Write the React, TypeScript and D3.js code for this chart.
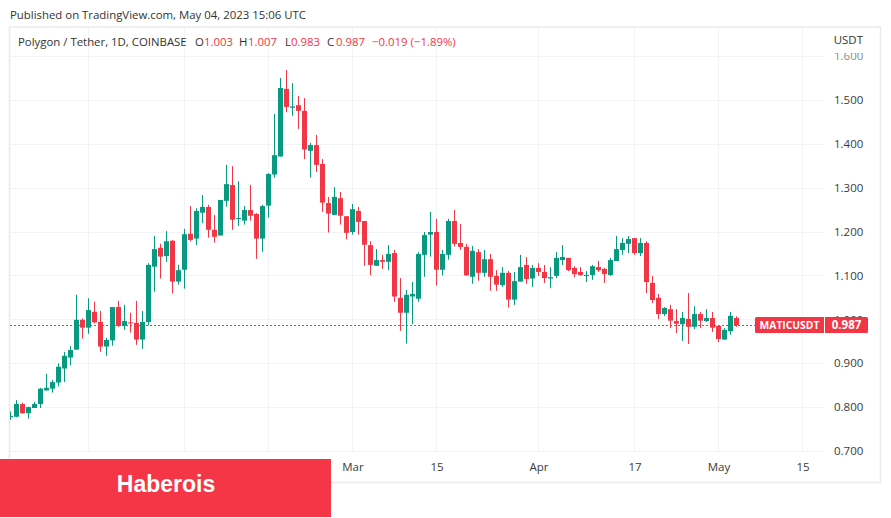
import { useEffect, useRef } from "react";
import * as d3 from "d3";

const firstDay = new Date(Date.UTC(2023, 0, 3));
const lastDay = new Date(Date.UTC(2023, 4, 4));

const opens = [
  0.777, 0.778, 0.807, 0.786, 0.798, 0.807, 0.838, 0.842, 0.856, 0.888,
  0.913, 0.931, 0.999, 0.981, 1.017, 0.994, 0.938, 0.952, 1.028, 0.985,
  0.993, 0.992, 0.954, 0.994, 1.12, 1.163, 1.144, 1.179, 1.086, 1.113,
  1.195, 1.184, 1.243, 1.256, 1.204, 1.191, 1.27, 1.306, 1.229, 1.225,
  1.249, 1.24, 1.184, 1.259, 1.33, 1.371, 1.525, 1.482, 1.488, 1.475,
  1.384, 1.397, 1.354, 1.265, 1.238, 1.276, 1.235, 1.199, 1.247, 1.224,
  1.169, 1.122, 1.135, 1.131, 1.151, 1.049, 1.015, 1.052, 1.047, 1.147,
  1.193, 1.199, 1.113, 1.147, 1.224, 1.174, 1.165, 1.097, 1.153, 1.106,
  1.137, 1.099, 1.078, 1.106, 1.045, 1.086, 1.124, 1.093, 1.117, 1.108,
  1.093, 1.099, 1.135, 1.14, 1.117, 1.108, 1.099, 1.101, 1.119, 1.115,
  1.101, 1.133, 1.158, 1.172, 1.185, 1.151, 1.174, 1.083, 1.049, 1.012,
  1.023, 0.996, 0.989, 1.001, 0.983, 1.012, 0.996, 1.003, 0.985, 0.954,
  0.973, 1.003,
];
const highs = [
  0.79, 0.816, 0.81, 0.801, 0.812, 0.844, 0.876, 0.862, 0.9, 0.926,
  0.939, 1.056, 1.002, 1.048, 1.04, 1.019, 0.958, 1.028, 1.042, 1.033,
  1.015, 1.042, 1.019, 1.128, 1.19, 1.172, 1.201, 1.181, 1.124, 1.206,
  1.258, 1.253, 1.283, 1.261, 1.238, 1.272, 1.352, 1.349, 1.315, 1.258,
  1.306, 1.242, 1.261, 1.333, 1.468, 1.55, 1.568, 1.538, 1.509, 1.504,
  1.402, 1.42, 1.365, 1.279, 1.301, 1.29, 1.235, 1.263, 1.256, 1.224,
  1.178, 1.16, 1.147, 1.169, 1.158, 1.094, 1.067, 1.085, 1.153, 1.199,
  1.245, 1.229, 1.158, 1.229, 1.249, 1.217, 1.172, 1.167, 1.16, 1.158,
  1.149, 1.112, 1.119, 1.11, 1.108, 1.147, 1.142, 1.124, 1.128, 1.124,
  1.119, 1.153, 1.169, 1.14, 1.121, 1.119, 1.11, 1.124, 1.133, 1.117,
  1.14, 1.19, 1.185, 1.19, 1.185, 1.185, 1.178, 1.099, 1.058, 1.028,
  1.033, 1.023, 1.017, 1.06, 1.03, 1.017, 1.023, 1.017, 0.985, 0.98,
  1.017, 1.007,
];
const lows = [
  0.771, 0.777, 0.785, 0.774, 0.798, 0.798, 0.838, 0.833, 0.847, 0.857,
  0.895, 0.931, 0.956, 0.967, 0.991, 0.926, 0.917, 0.94, 0.983, 0.976,
  0.97, 0.942, 0.933, 0.986, 1.063, 1.093, 1.131, 1.059, 1.079, 1.07,
  1.178, 1.169, 1.219, 1.186, 1.175, 1.191, 1.257, 1.204, 1.213, 1.216,
  1.225, 1.138, 1.154, 1.232, 1.323, 1.371, 1.472, 1.464, 1.434, 1.365,
  1.323, 1.336, 1.245, 1.198, 1.238, 1.216, 1.182, 1.193, 1.193, 1.122,
  1.101, 1.122, 1.115, 1.112, 1.04, 0.974, 0.945, 0.989, 1.04, 1.097,
  1.143, 1.077, 1.1, 1.136, 1.166, 1.158, 1.1, 1.081, 1.088, 1.097,
  1.065, 1.065, 1.074, 1.027, 1.033, 1.086, 1.081, 1.074, 1.099, 1.083,
  1.071, 1.094, 1.124, 1.11, 1.096, 1.099, 1.085, 1.09, 1.108, 1.083,
  1.099, 1.133, 1.147, 1.151, 1.147, 1.144, 1.06, 1.037, 1.001, 1.008,
  0.98, 0.969, 0.951, 0.944, 0.978, 0.98, 0.994, 0.971, 0.948, 0.953,
  0.965, 0.983,
];
const closes = [
  0.78, 0.807, 0.786, 0.8, 0.807, 0.842, 0.844, 0.857, 0.892, 0.917,
  0.93, 0.999, 0.981, 1.021, 0.993, 0.938, 0.953, 1.028, 0.985, 0.996,
  0.991, 0.954, 0.994, 1.124, 1.16, 1.143, 1.178, 1.086, 1.112, 1.194,
  1.181, 1.247, 1.256, 1.204, 1.188, 1.272, 1.308, 1.227, 1.231, 1.249,
  1.236, 1.184, 1.258, 1.331, 1.374, 1.527, 1.484, 1.485, 1.475, 1.387,
  1.397, 1.352, 1.266, 1.241, 1.279, 1.236, 1.197, 1.251, 1.222, 1.17,
  1.124, 1.135, 1.131, 1.149, 1.052, 1.015, 1.056, 1.058, 1.149, 1.192,
  1.199, 1.113, 1.149, 1.224, 1.172, 1.165, 1.1, 1.156, 1.106, 1.137,
  1.097, 1.079, 1.106, 1.045, 1.087, 1.119, 1.092, 1.117, 1.108, 1.094,
  1.096, 1.14, 1.142, 1.112, 1.103, 1.101, 1.101, 1.121, 1.112, 1.103,
  1.135, 1.16, 1.174, 1.183, 1.151, 1.174, 1.085, 1.044, 1.012, 1.026,
  0.997, 0.99, 1.003, 0.983, 1.012, 0.997, 1.003, 0.981, 0.955, 0.976,
  1.008, 0.987,
];

const priceTicks = [0.7, 0.8, 0.9, 1.0, 1.1, 1.2, 1.3, 1.4, 1.5, 1.6];
const timeTicks = [
  new Date(Date.UTC(2023, 0, 16)),
  new Date(Date.UTC(2023, 1, 1)),
  new Date(Date.UTC(2023, 1, 15)),
  new Date(Date.UTC(2023, 2, 1)),
  new Date(Date.UTC(2023, 2, 15)),
  new Date(Date.UTC(2023, 3, 1)),
  new Date(Date.UTC(2023, 3, 17)),
  new Date(Date.UTC(2023, 4, 1)),
  new Date(Date.UTC(2023, 4, 15)),
];
// the first three labels sit behind the banner in the picture
const timeLabels = ["", "", "", "Mar", "15", "Apr", "17", "May", "15"];
const lastPrice = 0.987;

const GREEN = "#089981";
const RED = "#f23645";
const GRID = "#f1f3f6";
const FONT = "'Open Sans', 'Noto Sans', sans-serif";

export default function App() {
  const ref = useRef<SVGSVGElement>(null);

  useEffect(() => {
    if (!ref.current) return;
    const svg = d3.select(ref.current);
    svg.selectAll("*").remove();

    const paneRight = 824;
    const paneBottom = 452;

    const x = d3.scaleUtc().domain([firstDay, lastDay]).range([10.5, 736.5]);
    const y = d3.scaleLinear().domain([0.7, 1.6]).range([451, 56]);

    svg.append("rect").attr("width", 891).attr("height", 518).attr("fill", "#fff");

    svg
      .append("text")
      .attr("x", 10)
      .attr("y", 19)
      .attr("font-size", 11.4)
      .attr("fill", "#333")
      .text("Published on TradingView.com, May 04, 2023 15:06 UTC");

    svg
      .append("rect")
      .attr("x", 9.5)
      .attr("y", 27)
      .attr("width", 871)
      .attr("height", 455.5)
      .attr("fill", "none")
      .attr("stroke", "#ebebeb")
      .attr("stroke-width", 1.5);

    svg
      .append("defs")
      .append("clipPath")
      .attr("id", "pane")
      .append("rect")
      .attr("x", 10)
      .attr("y", 28)
      .attr("width", paneRight - 10)
      .attr("height", paneBottom - 28);

    const grid = svg.append("g").attr("stroke", GRID).attr("stroke-width", 1);
    grid
      .selectAll("line.v")
      .data(timeTicks)
      .join("line")
      .attr("class", "v")
      .attr("x1", (d) => x(d))
      .attr("x2", (d) => x(d))
      .attr("y1", 28)
      .attr("y2", paneBottom);
    grid
      .selectAll("line.h")
      .data(priceTicks)
      .join("line")
      .attr("class", "h")
      .attr("x1", 10)
      .attr("x2", paneRight)
      .attr("y1", (d) => Math.round(y(d)) + 0.5)
      .attr("y2", (d) => Math.round(y(d)) + 0.5);

    const pane = svg.append("g").attr("clip-path", "url(#pane)");

    // last price line goes under the candles
    pane
      .append("line")
      .attr("x1", 10)
      .attr("x2", paneRight)
      .attr("y1", Math.round(y(lastPrice)) + 0.5)
      .attr("y2", Math.round(y(lastPrice)) + 0.5)
      .attr("stroke", RED)
      .attr("stroke-dasharray", "2 2");

    const candles = pane
      .selectAll("g.candle")
      .data(d3.range(opens.length))
      .join("g")
      .attr("class", "candle")
      .attr("fill", (i) => (closes[i] >= opens[i] ? GREEN : RED));

    const cx = (i: number) => x(d3.utcDay.offset(firstDay, i));

    candles
      .append("rect")
      .attr("x", (i) => cx(i) - 0.5)
      .attr("width", 1)
      .attr("y", (i) => y(highs[i]))
      .attr("height", (i) => y(lows[i]) - y(highs[i]));

    candles
      .append("rect")
      .attr("x", (i) => cx(i) - 2.5)
      .attr("width", 5)
      .attr("y", (i) => y(Math.max(opens[i], closes[i])))
      .attr("height", (i) => Math.max(1, Math.abs(y(opens[i]) - y(closes[i]))));

    const priceAxis = svg
      .append("g")
      .attr("transform", `translate(${paneRight},0)`)
      .call(d3.axisRight(y).tickValues(priceTicks).tickSize(0).tickPadding(10).tickFormat(d3.format(".3f")));
    priceAxis.select(".domain").remove();
    priceAxis
      .selectAll("text")
      .attr("font-family", FONT)
      .attr("font-size", 11.5)
      .attr("fill", (d) => (d === 1.6 ? "#8a8a8a" : "#3a3a3a"));

    const timeAxis = svg
      .append("g")
      .attr("transform", `translate(0,${paneBottom})`)
      .call(
        d3
          .axisBottom(x)
          .tickValues(timeTicks)
          .tickSize(0)
          .tickPadding(11)
          .tickFormat((_, i) => timeLabels[i])
      );
    timeAxis.select(".domain").remove();
    timeAxis.selectAll("text").attr("font-family", FONT).attr("font-size", 11.5).attr("fill", "#3a3a3a");

    // the currency label fades out the top of the highest price tick
    svg.append("rect").attr("x", 826).attr("y", 29).attr("width", 53).attr("height", 24).attr("fill", "#fff");
    svg
      .append("text")
      .attr("x", 863)
      .attr("y", 44)
      .attr("text-anchor", "end")
      .attr("font-size", 11.5)
      .attr("fill", "#333")
      .text("USDT");

    // header line of the pane
    const legendParts: [number, string, string][] = [
      [18, "Polygon / Tether, 1D, COINBASE", "#333"],
      [195, "O", "#333"],
      [204, "1.003", RED],
      [239, "H", "#333"],
      [248, "1.007", RED],
      [285, "L", "#333"],
      [291, "0.983", RED],
      [327, "C", "#333"],
      [336, "0.987", RED],
      [372, "−0.019 (−1.89%)", RED],
    ];
    svg
      .append("g")
      .selectAll("text")
      .data(legendParts)
      .join("text")
      .attr("x", (d) => d[0])
      .attr("y", 46)
      .attr("font-size", 11.4)
      .attr("fill", (d) => d[2])
      .text((d) => d[1]);

    // price tag
    const tagY = y(lastPrice);
    svg
      .append("rect")
      .attr("x", 755)
      .attr("y", tagY - 8)
      .attr("width", 113)
      .attr("height", 16)
      .attr("rx", 1.5)
      .attr("fill", RED);
    svg
      .append("rect")
      .attr("x", 824)
      .attr("y", tagY - 8)
      .attr("width", 1)
      .attr("height", 16)
      .attr("fill", "#fff");
    svg
      .append("text")
      .attr("x", 789.5)
      .attr("y", tagY + 4)
      .attr("text-anchor", "middle")
      .attr("font-size", 10.3)
      .attr("font-weight", 700)
      .attr("fill", "#fff")
      .text("MATICUSDT");
    svg
      .append("text")
      .attr("x", 846.5)
      .attr("y", tagY + 4)
      .attr("text-anchor", "middle")
      .attr("font-size", 11.5)
      .attr("font-weight", 700)
      .attr("fill", "#fff")
      .text(d3.format(".3f")(lastPrice));

    // banner
    svg.append("rect").attr("x", 0).attr("y", 459).attr("width", 331).attr("height", 58).attr("fill", "#f53647");
    svg
      .append("text")
      .attr("x", 166)
      .attr("y", 492)
      .attr("text-anchor", "middle")
      .attr("font-family", "'Liberation Sans', Arial, sans-serif")
      .attr("font-size", 23)
      .attr("font-weight", 700)
      .attr("fill", "#fff")
      .text("Haberois");
  }, []);

  return (
    <svg
      ref={ref}
      width={891}
      height={518}
      style={{ position: "absolute", left: 0, top: 0, display: "block", fontFamily: FONT }}
    />
  );
}
